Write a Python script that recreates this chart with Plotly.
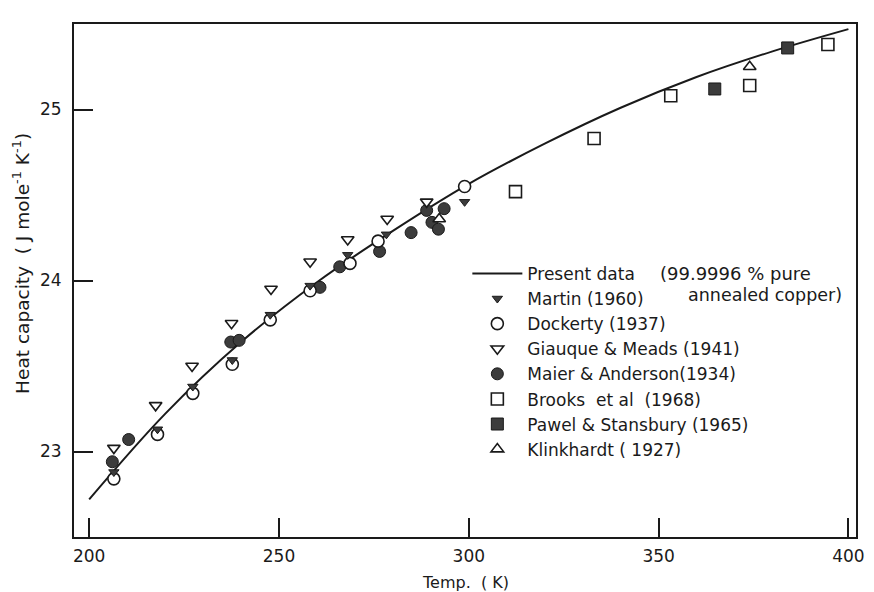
import plotly.graph_objects as go

# Present data (smooth curve)
curve_T = [200, 220, 240, 260, 280, 300, 320, 340, 360, 380, 400]
curve_C = [22.72, 23.22, 23.64, 23.99, 24.29, 24.565, 24.80, 25.01, 25.19, 25.34, 25.47]

martin_T = [206.5, 218, 227.3, 237.7, 247.7, 258.2, 268.1, 278.3, 298.9]
martin_C = [22.88, 23.13, 23.38, 23.535, 23.80, 23.97, 24.15, 24.27, 24.46]

dockerty_T = [206.5, 218, 227.3, 237.7, 247.7, 258.2, 268.7, 276.1, 298.9]
dockerty_C = [22.84, 23.10, 23.34, 23.51, 23.77, 23.94, 24.10, 24.23, 24.55]

giauque_T = [206.5, 217.5, 227.1, 237.5, 247.9, 258.2, 268.1, 278.5, 288.9]
giauque_C = [23.02, 23.27, 23.50, 23.75, 23.95, 24.11, 24.24, 24.36, 24.46]

maier_T = [206.1, 210.4, 237.3, 239.5, 260.8, 266.0, 276.5, 284.8, 288.9, 290.3, 292.0, 293.5]
maier_C = [22.94, 23.07, 23.64, 23.65, 23.96, 24.08, 24.17, 24.28, 24.41, 24.34, 24.30, 24.42]

brooks_T = [312.3, 333.0, 353.2, 374.0, 394.6]
brooks_C = [24.52, 24.83, 25.08, 25.14, 25.38]

pawel_T = [364.8, 384.0]
pawel_C = [25.12, 25.36]

klink_T = [292.2, 374.0]
klink_C = [24.36, 25.25]

x_ticks = [200, 250, 300, 350, 400]
y_ticks = [23, 24, 25]

FONT = "DejaVu Sans"
INK = "#1a1a1a"
FILL = "#3c3c3c"

fig = go.Figure()

fig.add_trace(go.Scatter(x=curve_T, y=curve_C, mode="lines", name="Present data",
                         line=dict(color=INK, width=2, shape="spline", smoothing=1.0),
                         legendrank=0))

fig.add_trace(go.Scatter(x=maier_T, y=maier_C, mode="markers", name="Maier & Anderson(1934)",
                         marker=dict(symbol="circle", size=12, color=FILL, line=dict(color=INK, width=1)),
                         legendrank=4))
fig.add_trace(go.Scatter(x=dockerty_T, y=dockerty_C, mode="markers", name="Dockerty (1937)",
                         marker=dict(symbol="circle", size=12, color="white", line=dict(color=INK, width=1.6)),
                         legendrank=2))
fig.add_trace(go.Scatter(x=giauque_T, y=giauque_C, mode="markers", name="Giauque & Meads (1941)",
                         marker=dict(symbol="triangle-down", size=11, color="white", line=dict(color=INK, width=1.6)),
                         legendrank=3))
fig.add_trace(go.Scatter(x=martin_T, y=martin_C, mode="markers", name="Martin (1960)",
                         marker=dict(symbol="triangle-down", size=9, color=FILL, line=dict(color=INK, width=1)),
                         legendrank=1))
fig.add_trace(go.Scatter(x=brooks_T, y=brooks_C, mode="markers", name="Brooks  et al  (1968)",
                         marker=dict(symbol="square", size=12, color="white", line=dict(color=INK, width=1.6)),
                         legendrank=5))
fig.add_trace(go.Scatter(x=pawel_T, y=pawel_C, mode="markers", name="Pawel & Stansbury (1965)",
                         marker=dict(symbol="square", size=12, color=FILL, line=dict(color=INK, width=1)),
                         legendrank=6))
fig.add_trace(go.Scatter(x=klink_T, y=klink_C, mode="markers", name="Klinkhardt ( 1927)",
                         marker=dict(symbol="triangle-up", size=11, color="white", line=dict(color=INK, width=1.6)),
                         legendrank=7))

axis_common = dict(showgrid=False, zeroline=False, showline=True, linecolor=INK, linewidth=2,
                   mirror=True, ticks="inside", ticklen=19, tickwidth=1.5, tickcolor=INK,
                   tickfont=dict(family=FONT, size=17, color=INK))

fig.update_layout(
    width=874, height=592,
    margin=dict(l=74, r=9, t=24, b=55),
    paper_bgcolor="white", plot_bgcolor="white",
    font=dict(family=FONT, size=17, color=INK),
    xaxis=dict(range=[196, 402], tickvals=x_ticks, ticklabelstandoff=3, **axis_common),
    yaxis=dict(range=[22.5, 25.5], tickvals=y_ticks, ticklabelstandoff=7, **axis_common),
    showlegend=True,
    legend=dict(x=0.503, y=0.548, xanchor="left", yanchor="top", bgcolor="rgba(0,0,0,0)",
                borderwidth=0, itemwidth=50, font=dict(family=FONT, size=17, color=INK),
                traceorder="normal"),
    annotations=[
        dict(text="Heat capacity  ( J mole<sup>-1</sup> K<sup>-1</sup>)", xref="paper", yref="paper",
             x=-0.068, y=0.534, textangle=-90, showarrow=False, xanchor="center", yanchor="middle",
             font=dict(family=FONT, size=18.5, color=INK)),
        dict(text="Temp.  ( K)", xref="paper", yref="paper", x=0.5, y=-0.066, showarrow=False,
             xanchor="center", yanchor="top", font=dict(family=FONT, size=16, color=INK)),
        dict(text="(99.9996 % pure", xref="paper", yref="paper", x=(665 - 74) / 791, y=(537 - 273) / 513,
             showarrow=False, xanchor="left", yanchor="middle", font=dict(family=FONT, size=18, color=INK)),
        dict(text="annealed copper)", xref="paper", yref="paper", x=(693 - 74) / 791, y=(537 - 295) / 513,
             showarrow=False, xanchor="left", yanchor="middle", font=dict(family=FONT, size=17.5, color=INK)),
    ],
)

fig.write_html("out.html")
